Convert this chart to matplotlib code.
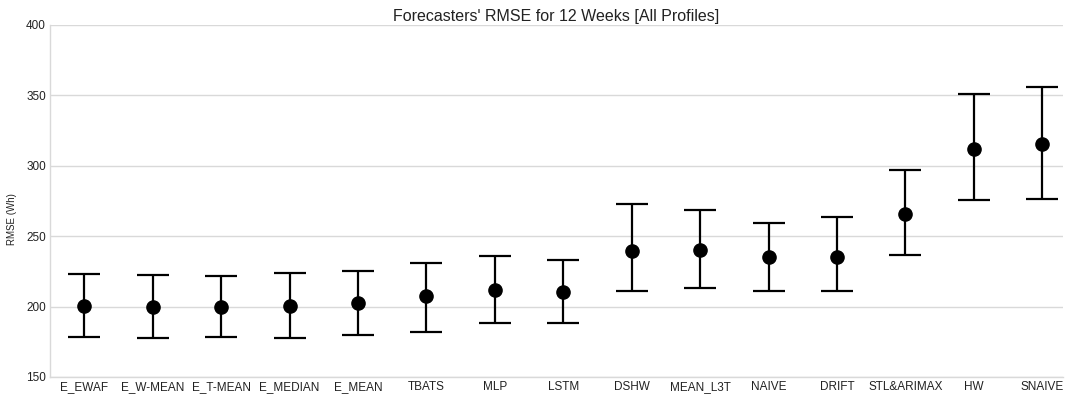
import numpy as np
from matplotlib import pyplot as plt

plt.rcParams['font.family'] = ['Liberation Sans', 'DejaVu Sans']

models = ['E_EWAF', 'E_W-MEAN', 'E_T-MEAN', 'E_MEDIAN', 'E_MEAN', 'TBATS', 'MLP',
          'LSTM', 'DSHW', 'MEAN_L3T', 'NAIVE', 'DRIFT', 'STL&ARIMAX', 'HW', 'SNAIVE']
rmse_mean = [200.3, 200.0, 199.6, 200.5, 202.6, 207.8, 211.8, 210.1, 239.2, 239.9,
             235.3, 235.2, 265.5, 311.7, 315.3]
rmse_low = [178.7, 177.4, 178.3, 178.0, 179.7, 182.2, 188.3, 188.0, 211.4, 213.4,
            210.8, 210.8, 236.3, 275.6, 276.7]
rmse_high = [223.3, 222.6, 221.8, 224.0, 225.4, 230.7, 235.8, 233.4, 272.8, 268.7,
             259.6, 263.4, 297.2, 350.7, 356.1]

mean = np.array(rmse_mean)
yerr = [mean - np.array(rmse_low), np.array(rmse_high) - mean]
x = np.arange(len(models))

fig = plt.figure(figsize=(10.66, 3.96), dpi=100)
ax = fig.add_axes([0.047, 0.048, 0.95, 0.889])

ax.errorbar(x, mean, yerr=yerr, fmt='o', color='black', ecolor='black',
            markersize=9.5, elinewidth=1.6, capsize=11.5, capthick=1.6, zorder=3)

ax.set_xlim(-0.5, 14.3)
ax.set_ylim(150, 400)
ax.set_yticks([150, 200, 250, 300, 350, 400])
ax.set_xticks(x)
ax.set_xticklabels(models)
ax.tick_params(length=0, labelsize=8.5, colors='#222222', pad=3)
ax.yaxis.grid(True, color='#d9d9d9', linewidth=1.0)
ax.set_axisbelow(True)
for s in ['top', 'right']:
    ax.spines[s].set_visible(False)
for s in ['left', 'bottom']:
    ax.spines[s].set_color('#d9d9d9')
    ax.spines[s].set_linewidth(1.0)

ax.set_ylabel('RMSE (Wh)', fontsize=7, color='#222222')
ax.yaxis.set_label_coords(-0.033, 0.45)
ax.set_title("Forecasters' RMSE for 12 Weeks [All Profiles]", fontsize=11.5,
             pad=3, color='#222222')

plt.savefig('out.png', dpi=100)
